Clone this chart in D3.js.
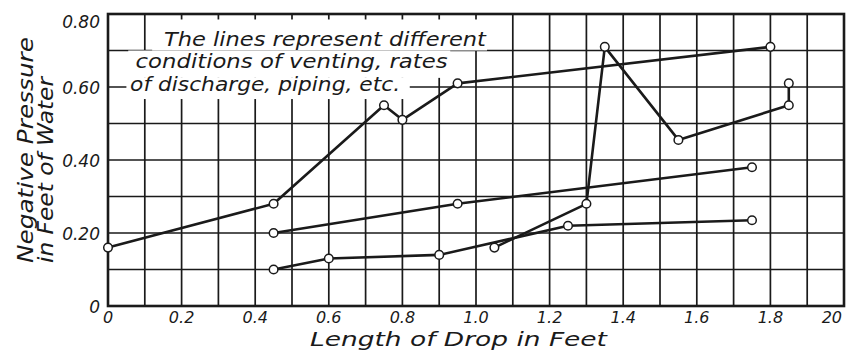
<!DOCTYPE html>
<html><head><meta charset="utf-8">
<script src="https://cdn.jsdelivr.net/npm/d3@7"></script>
<style>
html,body{margin:0;padding:0;background:#fff;}
text{font-family:"DejaVu Sans",sans-serif;font-style:italic;fill:#1a1a1a;}
</style></head>
<body>
<svg id="chart" width="846" height="353"></svg>
<script>
// ---- data ----
const xTickValues = [0,0.2,0.4,0.6,0.8,1.0,1.2,1.4,1.6,1.8,2.0];
const xTickLabels = ["0","0.2","0.4","0.6","0.8","1.0","1.2","1.4","1.6","1.8","20"];
const yTickValues = [0,0.2,0.4,0.6,0.8];
const yTickLabels = ["0","0.20","0.40","0.60","0.80"];

const seriesA_x = [0, 0.45, 0.75, 0.80, 0.95, 1.80];
const seriesA_y = [0.16, 0.28, 0.55, 0.51, 0.61, 0.71];
const seriesB_x = [1.05, 1.30, 1.35, 1.55, 1.85, 1.85];
const seriesB_y = [0.16, 0.28, 0.71, 0.455, 0.55, 0.61];
const seriesC_x = [0.45, 0.95, 1.75];
const seriesC_y = [0.20, 0.28, 0.38];
const seriesD_x = [0.45, 0.60, 0.90, 1.25, 1.75];
const seriesD_y = [0.10, 0.13, 0.14, 0.22, 0.235];

const noteLines = ["The lines represent different","conditions of venting, rates","of discharge, piping, etc."];
const xTitle = "Length of Drop in Feet";
const yTitleLines = ["Negative Pressure","in Feet of Water"];

// ---- drawing ----
const svg = d3.select("#chart");
const ink = "#1a1a1a";
const x = d3.scaleLinear().domain([0,2]).range([108,844]);
const y = d3.scaleLinear().domain([0,0.8]).range([306,14]);

// grid
const gridX = d3.range(0,21).map(i=>i/10);
const gridY = d3.range(0,9).map(i=>i/10);
const g = svg.append("g");
g.selectAll("line.vx").data(gridX).join("line")
  .attr("x1",d=>x(d)).attr("x2",d=>x(d)).attr("y1",y(0.8)).attr("y2",y(0))
  .attr("stroke",ink).attr("stroke-width",1.7);
g.selectAll("line.hy").data(gridY).join("line")
  .attr("x1",x(0)).attr("x2",x(2)).attr("y1",d=>y(d)).attr("y2",d=>y(d))
  .attr("stroke",ink).attr("stroke-width",1.7);

// white masks behind the note (in data units so they follow scales)
const masks = [
  [0.12, 1.03, 0.785, 0.70],
  [0.055, 0.93, 0.70, 0.625],
  [0.05, 0.82, 0.625, 0.567]
];
svg.selectAll("rect.mask").data(masks).join("rect")
  .attr("x",d=>x(d[0])).attr("width",d=>x(d[1])-x(d[0]))
  .attr("y",d=>y(d[2])).attr("height",d=>y(d[3])-y(d[2]))
  .attr("fill","#fff");

// frame
svg.append("rect").attr("x",x(0)).attr("y",y(0.8))
  .attr("width",x(2)-x(0)).attr("height",y(0)-y(0.8))
  .attr("fill","none").attr("stroke",ink).attr("stroke-width",2.6);

// note text
const noteX = [0.152, 0.075, 0.06];
const noteY = [0.713, 0.652, 0.588];
const noteW = [322, 312, 270];
svg.selectAll("text.note").data(noteLines).join("text")
  .attr("x",(d,i)=>x(noteX[i])).attr("y",(d,i)=>y(noteY[i]))
  .attr("font-size",19).attr("textLength",(d,i)=>noteW[i])
  .attr("lengthAdjust","spacingAndGlyphs").text(d=>d);

// series
const series = [
  [seriesA_x, seriesA_y],
  [seriesB_x, seriesB_y],
  [seriesC_x, seriesC_y],
  [seriesD_x, seriesD_y]
].map(([xs,ys])=>xs.map((v,i)=>[v,ys[i]]));
const line = d3.line().x(d=>x(d[0])).y(d=>y(d[1]));
svg.selectAll("path.s").data(series).join("path")
  .attr("d",line).attr("fill","none").attr("stroke",ink)
  .attr("stroke-width",2.6).attr("stroke-linejoin","round");
series.forEach(s=>{
  svg.append("g").selectAll("circle").data(s).join("circle")
    .attr("cx",d=>x(d[0])).attr("cy",d=>y(d[1])).attr("r",4.3)
    .attr("fill","#fff").attr("stroke",ink).attr("stroke-width",1.5);
});

// x tick labels
svg.selectAll("text.xt").data(xTickValues).join("text")
  .attr("x",(d,i)=> i===xTickValues.length-1 ? x(d)-2 : x(d))
  .attr("y",323)
  .attr("text-anchor",(d,i)=> i===xTickValues.length-1 ? "end" : "middle")
  .attr("font-size",16).text((d,i)=>xTickLabels[i]);

// y tick labels
svg.selectAll("text.yt").data(yTickValues).join("text")
  .attr("x",100).attr("y",d=>Math.max(y(d)+7,28))
  .attr("text-anchor","end").attr("font-size",17)
  .text((d,i)=>yTickLabels[i]);

// axis titles
svg.append("text").attr("x",310).attr("y",346).attr("font-size",20)
  .attr("textLength",297).attr("lengthAdjust","spacingAndGlyphs").text(xTitle);
const yTitleX = [33, 53];
const yTitleW = [226, 186];
yTitleLines.forEach((t,i)=>{
  svg.append("text").attr("transform",`translate(${yTitleX[i]},263) rotate(-90)`)
    .attr("font-size",21).attr("textLength",yTitleW[i])
    .attr("lengthAdjust","spacingAndGlyphs").text(t);
});
</script>
</body></html>
